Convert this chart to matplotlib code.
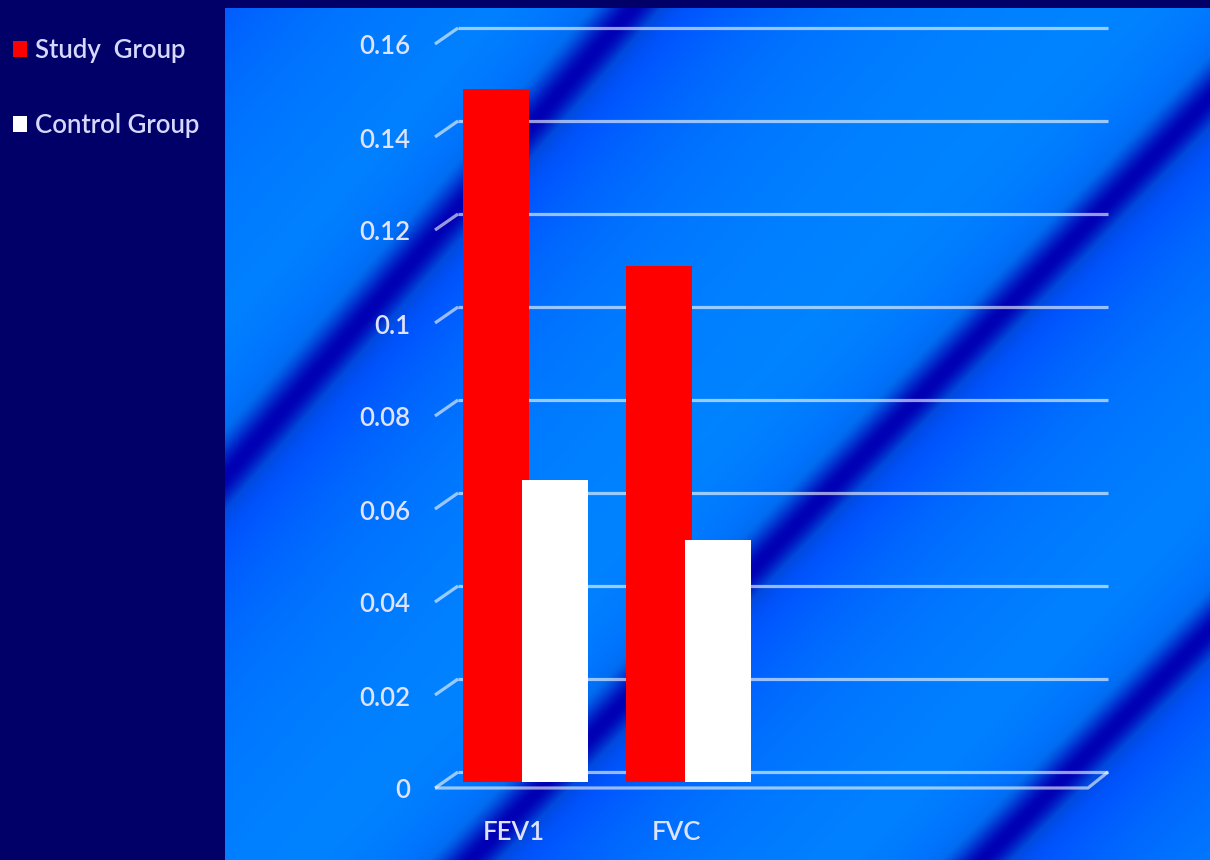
import numpy as np
import matplotlib.pyplot as plt

plt.rcParams['font.family'] = ['Lato', 'DejaVu Sans']

# data
categories = ['FEV1', 'FVC']
study_group = [0.149, 0.111]
control_group = [0.065, 0.052]
yticks = [0, 0.02, 0.04, 0.06, 0.08, 0.1, 0.12, 0.14, 0.16]
ytick_labels = ['0', '0.02', '0.04', '0.06', '0.08', '0.1', '0.12', '0.14', '0.16']

W, H = 1210, 860
fig = plt.figure(figsize=(W / 100, H / 100), dpi=100, facecolor='#000068')

# striped blue backdrop behind the plot area
bx0, by0 = 225, 8
xs = np.arange(bx0, W) + 0.5
ys = np.arange(by0, H) + 0.5
X, Y = np.meshgrid(xs, ys)
shade = np.zeros_like(X)
core = np.zeros_like(X)
# (slant, offset) of each dark diagonal band
for slant, c in [(0.87, 150), (0.87, 640), (0.97, 1305), (0.99, 1834)]:
    d = X + slant * Y - c
    k = np.exp(-(d / 32) ** 2)
    lower = np.where(d > 0, 0.55 * np.exp(-np.clip(d, 0, None) / 150), 0)
    upper = np.where(d <= 0, 0.35 * np.exp(-np.clip(-d, 0, None) / 70), 0)
    shade = np.maximum.reduce([shade, k, lower, upper])
    core = np.maximum(core, k)
img = np.zeros(X.shape + (3,))
img[..., 1] = 135 * (1 - shade) / 255
img[..., 2] = (255 - 75 * core) / 255

bg = fig.add_axes([bx0 / W, 0, (W - bx0) / W, (H - by0) / H])
bg.imshow(img, aspect='auto', interpolation='bilinear')
bg.axis('off')

# chart axes = back wall of the 3d plot
left, right, top, bottom = 462, 1108, 28, 772
ax = fig.add_axes([left / W, 1 - bottom / H, (right - left) / W, (bottom - top) / H])
ax.patch.set_alpha(0)
xmin, xmax = -0.39, 3.573
ax.set_xlim(xmin, xmax)
ax.set_ylim(0, 0.16)
ax.axis('off')

px_x = (xmax - xmin) / (right - left)
px_y = 0.16 / (bottom - top)
dx, dy = 27 * px_x, 16 * px_y  # depth of the floor

txt_kw = dict(fontsize=18.5, color='#dfe3ff', fontweight='semibold')
grid_kw = dict(color='white', alpha=0.6, lw=2.3, solid_capstyle='butt', clip_on=False)
for v, lab in zip(yticks, ytick_labels):
    ax.plot([xmin - 4 * px_x, xmax], [v, v], zorder=1, **grid_kw)
    ax.plot([xmin - dx, xmin - 4 * px_x], [v - dy, v], zorder=1, **grid_kw)
    ax.text(xmin - 52 * px_x, v - 19 * px_y, lab, ha='right', va='center', **txt_kw)

# floor front edge
ax.plot([xmin - dx, xmax - 20 * px_x, xmax], [-dy, -dy, 0], zorder=1, **grid_kw)

x = np.arange(len(categories))
w = 0.405
base = -10 * px_y
ax.bar(x - 0.181, study_group, w, bottom=base, color='#ff0000', zorder=3,
       clip_on=False, label='Study  Group')
ax.bar(x + 0.181, control_group, w, bottom=base, color='#ffffff', zorder=4,
       clip_on=False, label='Control Group')

for xi, lab in zip(x, categories):
    ax.text(xi - 12 * px_x, -61 * px_y, lab, ha='center', va='center', **txt_kw)

fig.legend(loc='upper left', bbox_to_anchor=(13 / W, 1 - 38 / H), frameon=False,
           prop=dict(size=18.5, weight='semibold'), labelcolor='#d6d8ff',
           handlelength=0.55, handleheight=0.55, handletextpad=0.3,
           labelspacing=1.95, borderpad=0, borderaxespad=0)

fig.savefig('out.png', dpi=100, facecolor=fig.get_facecolor())
